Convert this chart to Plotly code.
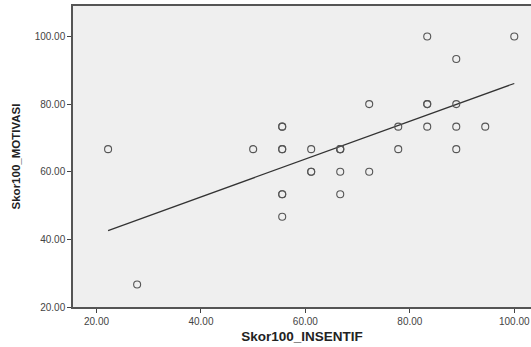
import plotly.graph_objects as go

# Data (duplicates listed twice -> bolder rings)
insentif = [22.22, 27.78, 50.00, 55.56, 55.56, 55.56, 55.56, 55.56, 55.56, 55.56,
            61.11, 61.11, 61.11, 66.67, 66.67, 66.67, 66.67, 66.67,
            72.22, 72.22, 77.78, 77.78, 83.33, 83.33, 83.33, 83.33,
            88.89, 88.89, 88.89, 88.89, 94.44, 100.00]
motivasi = [66.67, 26.67, 66.67, 73.33, 73.33, 66.67, 53.33, 53.33, 46.67, 66.67,
            66.67, 60.00, 60.00, 66.67, 66.67, 60.00, 53.33, 66.67,
            80.00, 60.00, 73.33, 66.67, 100.00, 80.00, 80.00, 73.33,
            93.33, 80.00, 73.33, 66.67, 73.33, 100.00]

# Fit line endpoints
fit_x = [22.22, 100.00]
fit_y = [42.6, 86.1]

x_ticks = [20, 40, 60, 80, 100]
y_ticks = [20, 40, 60, 80, 100]
tick_labels_x = ["20.00", "40.00", "60.00", "80.00", "100.00"]
tick_labels_y = ["20.00", "40.00", "60.00", "80.00", "100.00"]

fig = go.Figure()
fig.add_trace(go.Scatter(
    x=fit_x, y=fit_y, mode="lines",
    line=dict(color="#333333", width=1.2),
    hoverinfo="skip", showlegend=False))
fig.add_trace(go.Scatter(
    x=insentif, y=motivasi, mode="markers",
    marker=dict(symbol="circle-open", size=7, color="#555555",
                line=dict(width=1.1, color="#555555")),
    showlegend=False))

fig.update_layout(
    width=531, height=347,
    margin=dict(l=73, r=0, t=6, b=40),
    paper_bgcolor="white",
    plot_bgcolor="#efefef",
    font=dict(family="Arial, Liberation Sans, sans-serif", color="#333333"),
    xaxis=dict(
        range=[15.5, 103.2],
        tickmode="array", tickvals=x_ticks, ticktext=tick_labels_x,
        ticks="outside", ticklen=4, tickcolor="#444444", tickwidth=1,
        tickfont=dict(size=10, color="#444444"),
        showgrid=False, zeroline=False,
        showline=True, linecolor="#555555", linewidth=1.5, mirror=True,
        title=dict(text="<b>Skor100_INSENTIF</b>", font=dict(size=13.5, color="#222222"), standoff=6),
    ),
    yaxis=dict(
        range=[20, 109],
        tickmode="array", tickvals=y_ticks, ticktext=tick_labels_y,
        ticks="outside", ticklen=4, tickcolor="#444444", tickwidth=1,
        tickfont=dict(size=10, color="#444444"),
        showgrid=False, zeroline=False,
        showline=True, linecolor="#555555", linewidth=1.5, mirror=False,
        title=dict(text="<b>Skor100_MOTIVASI</b>", font=dict(size=11.5, color="#222222"), standoff=12),
    ),
)

fig.write_html("out.html",
               config={"displayModeBar": False},
               post_script="document.body.style.margin='0';document.body.style.overflow='hidden';")
